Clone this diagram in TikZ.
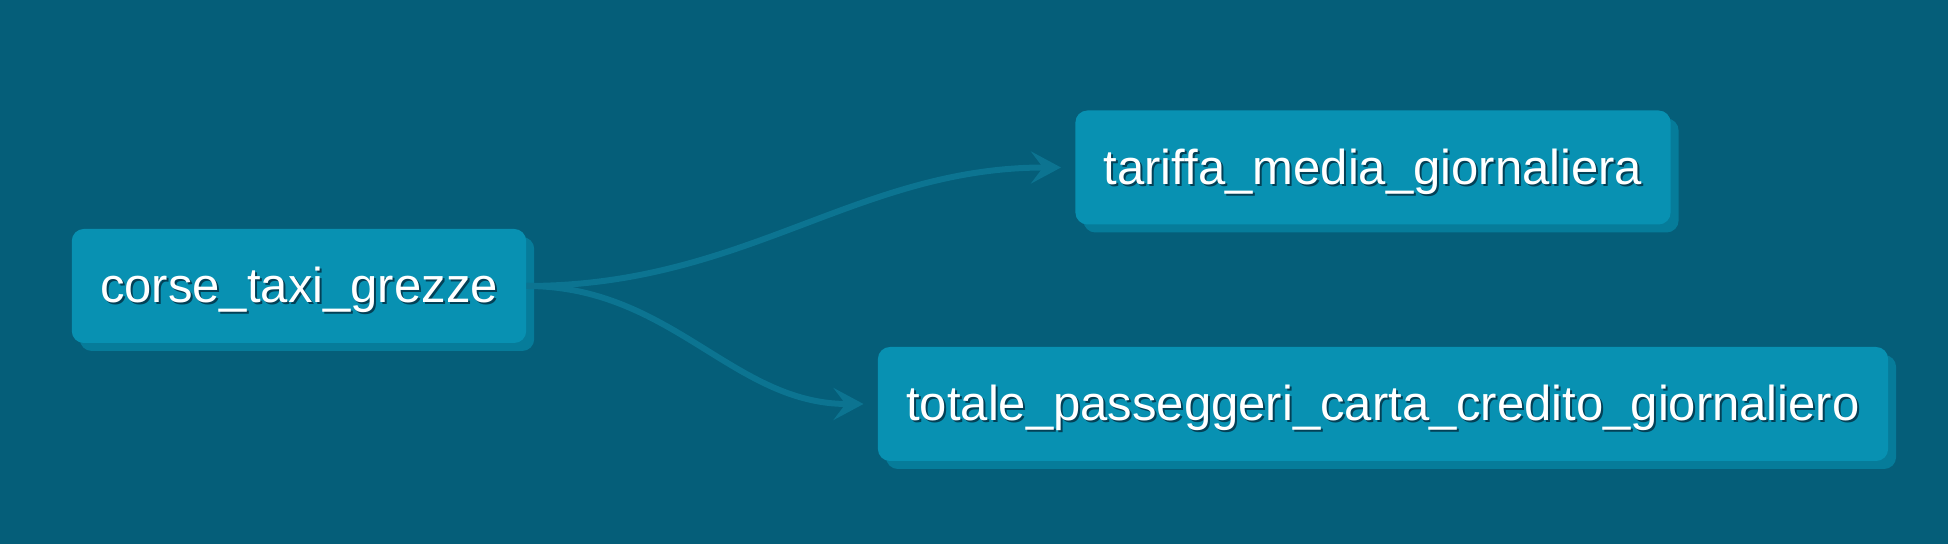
\documentclass[tikz,border=0pt]{standalone}
\usepackage{fontspec}
\setmainfont{Liberation Sans}
\usetikzlibrary{arrows.meta,shadows}
\definecolor{bgteal}{RGB}{5,94,121}
\definecolor{boxteal}{RGB}{8,145,178}
\definecolor{boxshade}{RGB}{6,124,154}
\definecolor{linkteal}{RGB}{12,116,145}
\definecolor{txtshade}{RGB}{3,64,86}
\newcommand{\shadedlabel}[1]{\makebox[0pt][l]{\hspace{1pt}\raisebox{-1pt}{\color{txtshade}#1}}#1}
\begin{document}
\begin{tikzpicture}[x=0.5pt,y=0.5pt,
    table/.style={fill=boxteal, rounded corners=6pt, text=white,
      font=\fontsize{24.5}{28}\selectfont, inner xsep=14.2pt,
      minimum height=57pt, text height=22pt, text depth=5pt,
      drop shadow={shadow xshift=4pt, shadow yshift=-4pt, fill=boxshade, opacity=1}},
    link/.style={draw=linkteal, line width=3pt, shorten >=7pt,
      -{Stealth[length=15pt,width=16pt,inset=6pt]}}]
    \fill[bgteal] (0,0) rectangle (1948,544);
    %
    \node[table] (corse) at (299,258) {\shadedlabel{corse\_taxi\_grezze}};
    \node[table] (tariffa) at (1373,376.5) {\shadedlabel{tariffa\_media\_giornaliera}};
    \node[table] (totale) at (1383,140) {\shadedlabel{totale\_passeggeri\_carta\_credito\_giornaliero}};
    %
    \draw[link] (corse.east) to[out=0,in=180] (tariffa.west);
    \draw[link] (corse.east) to[out=0,in=180] (totale.west);
\end{tikzpicture}
\end{document}
